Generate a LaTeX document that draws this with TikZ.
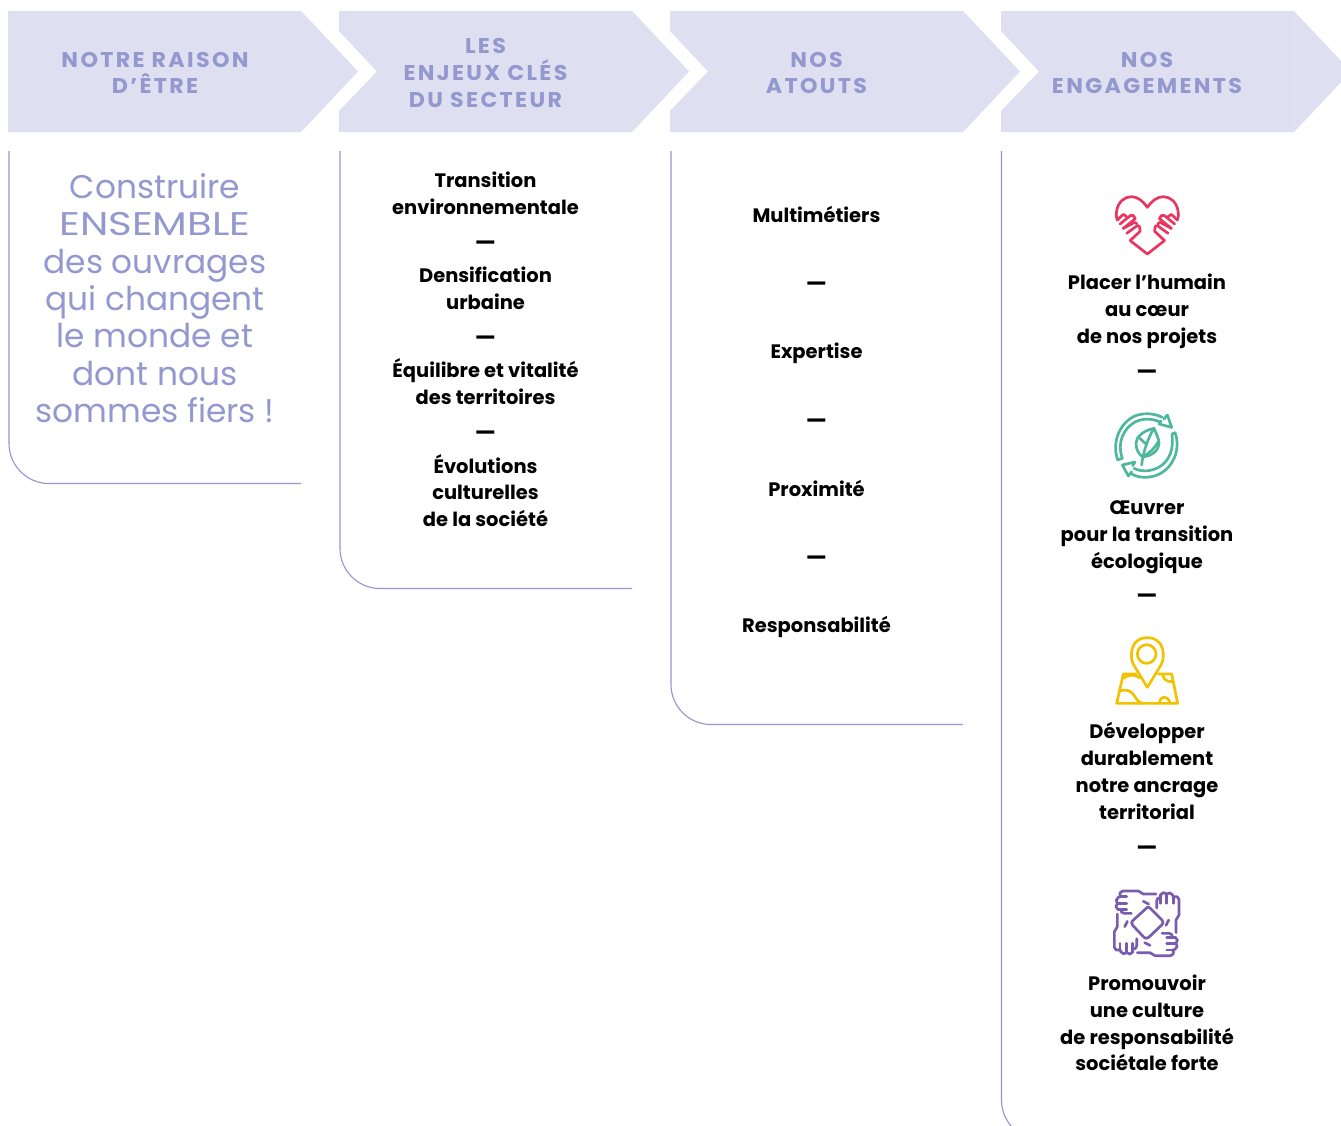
\documentclass[tikz,border=0pt]{standalone}
\usepackage{fontspec}
\setmainfont{Poppins}
\newfontfamily\titlefont[LetterSpace=11,FakeStretch=1.04]{Poppins Bold}
\newfontfamily\semifont{Poppins Bold}
\newfontfamily\boldfont{Poppins Bold}
\newfontfamily\leadfont{Poppins}
\newfontfamily\ensfont[FakeStretch=1.23]{Poppins}
\definecolor{boxfill}{HTML}{DEDFF0}
\definecolor{lilac}{HTML}{9398CF}
\definecolor{heartc}{HTML}{E8365F}
\definecolor{leafc}{HTML}{4DB89D}
\definecolor{pinc}{HTML}{F2C200}
\definecolor{handc}{HTML}{7A5CAE}
\tikzset{
  x=.75pt,y=-.75pt,
  banner/.style={fill=boxfill,draw=none},
  seam/.style={draw=white,opacity=.15,line width=.3pt},
  panel/.style={draw=lilac,line width=.85pt},
  headtext/.style={align=center,text=lilac,font=\titlefont\fontsize{16}{20}\selectfont,inner sep=0pt},
  leadtext/.style={align=center,text=lilac,font=\leadfont\fontsize{24.6}{28}\selectfont,inner sep=0pt},
  bodytext/.style={align=center,text=black,font=\semifont\fontsize{14.6}{20.1}\selectfont,inner sep=0pt},
  sep/.style={text=black,font=\boldfont\fontsize{17}{20}\selectfont,inner sep=0pt},
  icon/.style={line width=2pt,line join=round,line cap=round,fill=none},
}
\begin{document}
\begin{tikzpicture}
\useasboundingbox (0,0) rectangle (1341,1125);
\clip (0,0) rectangle (1341,1125);
\fill[white] (0,0) rectangle (1341,1125);
% banners
\path[banner] (8,11) -- (301,11) -- (358,71.5) -- (301,132) -- (8,132) -- cycle;
\path[banner] (339,11) -- (632,11) -- (689,71.5) -- (632,132) -- (339,132) -- (339,111) -- (377,71.5) -- (339,31) -- cycle;
\path[banner] (670,11) -- (963,11) -- (1020,71.5) -- (963,132) -- (670,132) -- (670,111) -- (708,71.5) -- (670,31) -- cycle;
\path[banner] (1001,11) -- (1294,11) -- (1351,71.5) -- (1294,132) -- (1001,132) -- (1001,111) -- (1039,71.5) -- (1001,31) -- cycle;
\foreach \sx in {301,632,963,1294} \draw[seam] (\sx,11) -- (\sx,132);
% panels
\draw[panel] (9,151) -- (9,443.5) arc[start angle=180,end angle=270,x radius=40,y radius=-40] -- (301,483.5);
\draw[panel] (340,151) -- (340,548.5) arc[start angle=180,end angle=270,x radius=40,y radius=-40] -- (632,588.5);
\draw[panel] (671,151) -- (671,684.5) arc[start angle=180,end angle=270,x radius=40,y radius=-40] -- (963,724.5);
\draw[panel] (1001.5,151) -- (1001.5,1100) arc[start angle=180,end angle=270,x radius=40,y radius=-40];
% headings
\node[headtext] (h1) at (155,73) {NOTRE RAISON\\D’ÊTRE};
\node[headtext] (h2) at (485.5,73) {LES\\ENJEUX CLÉS\\DU SECTEUR};
\node[headtext] (h3) at (816.5,73) {NOS\\ATOUTS};
\node[headtext] (h4) at (1147,73) {NOS\\ENGAGEMENTS};
% lead text
\node[leadtext] (lead) at (155,298) {Construire\\{\ensfont ENSEMBLE}\\des ouvrages\\qui changent\\le monde et\\dont nous\\sommes fiers !};
% column 2
\node[bodytext] (c2a) at (485.5,193) {Transition\\environnementale};
\node[sep] (c2s1) at (485.5,246) {—};
\node[bodytext] (c2b) at (485.5,288.5) {Densification\\urbaine};
\node[sep] (c2s2) at (485.5,341) {—};
\node[bodytext] (c2c) at (485.5,381.5) {Équilibre et vitalité\\des territoires};
\node[sep] (c2s3) at (485.5,435.5) {—};
\node[bodytext] (c2d) at (485.5,490.5) {Évolutions\\culturelles\\de la société};
% column 3
\node[bodytext] (c3a) at (816.5,214) {Multimétiers};
\node[sep] (c3s1) at (816.5,286.5) {—};
\node[bodytext] (c3b) at (816.5,353) {Expertise};
\node[sep] (c3s2) at (816.5,423.5) {—};
\node[bodytext] (c3c) at (816.5,488) {Proximité};
\node[sep] (c3s3) at (816.5,560.5) {—};
\node[bodytext] (c3d) at (816.5,627) {Responsabilité};
% column 4
\node[bodytext] (c4a) at (1147,311) {Placer l’humain\\au cœur\\de nos projets};
\node[sep] (c4s1) at (1147,375) {—};
\node[bodytext] (c4b) at (1147,537) {Œuvrer\\pour la transition\\écologique};
\node[sep] (c4s2) at (1147,599) {—};
\node[bodytext] (c4c) at (1147,771) {Développer\\durablement\\notre ancrage\\territorial};
\node[sep] (c4s3) at (1147,851) {—};
\node[bodytext] (c4d) at (1147,1023) {Promouvoir\\une culture\\de responsabilité\\sociétale forte};
% heart icon
\begin{scope}[shift={(1090,180)},x=.25pt,y=-.25pt,icon,draw=heartc]
  \draw (82,120) .. controls (78,108) and (78,100) .. (80,92) .. controls (84,68) and (102,50) .. (124,50) .. controls (143,50) and (160,64) .. (172,82) .. controls (184,64) and (201,50) .. (220,50) .. controls (242,50) and (260,68) .. (264,92) .. controls (266,100) and (266,108) .. (262,120);
  \draw (122,183) -- (172,222) -- (222,183);
  \foreach \m/\o in {1/0,-1/344}{
    \begin{scope}[shift={(\o,0)},xscale=\m]
      \draw (82,120) -- (100,103) -- (110,110);
      \draw (90,132) -- (122,106) .. controls (128,103) and (134,108) .. (136,116) -- (100,145);
      \draw (100,145) -- (132,128) .. controls (136,126) and (140,128) .. (140,132);
      \draw (110,160) -- (143,136) .. controls (148,136) and (150,142) .. (150,150) -- (150,154) -- (120,182);
    \end{scope}
  }
\end{scope}
% recycling leaf icon
\begin{scope}[shift={(1090,400)},x=.25pt,y=-.25pt,icon,draw=leafc]
  \draw (97,175) .. controls (80,130) and (100,85) .. (135,66) .. controls (160,54) and (185,55) .. (210,66);
  \draw (83,180) .. controls (66,130) and (85,75) .. (130,50) .. controls (155,38) and (190,38) .. (217,52);
  \draw (84,179) -- (97,175);
  \draw (232,45) -- (245,82) -- (207,72) -- (213,63);
  \draw (232,45) -- (222,57);
  \draw (97,195) -- (135,186) -- (128,197);
  \draw (97,195) -- (115,228) -- (125,215);
  \draw (255,98) .. controls (272,140) and (255,195) .. (212,220) .. controls (185,235) and (150,236) .. (125,222);
  \draw (132,205) .. controls (160,220) and (200,212) .. (222,190) .. controls (245,168) and (250,135) .. (246,105);
  \draw (255,98) -- (246,102);
  \draw (192,85) .. controls (160,92) and (138,110) .. (138,130) .. controls (138,150) and (148,165) .. (158,170) .. controls (180,170) and (205,155) .. (207,130) .. controls (207,115) and (198,100) .. (192,85) -- cycle;
  \draw (155,195) .. controls (158,165) and (170,120) .. (192,85);
  \draw (146,112) -- (168,132);
  \draw (162,168) .. controls (175,160) and (190,150) .. (205,125);
\end{scope}
% map pin icon
\begin{scope}[shift={(1090,625)},x=.25pt,y=-.25pt,icon,draw=pinc]
  \draw (172,187) -- (130,118) .. controls (118,95) and (120,38) .. (172,38) .. controls (224,38) and (226,95) .. (214,118) -- cycle;
  \draw (170,87) circle[radius=28];
  \draw (138,147) -- (100,147) -- (80,235) -- (263,235) -- (245,147) -- (205,147);
  \draw (100,160) .. controls (120,145) and (135,150) .. (148,158);
  \draw (218,150) .. controls (222,165) and (232,170) .. (246,170);
  \draw (88,198) .. controls (115,190) and (125,200) .. (135,215) .. controls (143,230) and (150,232) .. (158,235);
  \draw (208,235) .. controls (210,210) and (235,210) .. (240,235);
\end{scope}
% hands icon
\begin{scope}[shift={(1090,880)},x=.25pt,y=-.25pt,icon,draw=handc]
  \draw (172,82) .. controls (176,80) and (178,82) .. (180,84) -- (216,120) .. controls (220,125) and (220,130) .. (216,134) -- (176,172) .. controls (170,176) and (166,176) .. (162,172) -- (128,136) .. controls (124,131) and (124,126) .. (128,122) -- cycle;
  \foreach \r in {0,90,180,270}{
    \begin{scope}[rotate around={\r:(170,130)}]
      \draw (198,42) -- (160,42) -- (145,33) -- (98,33) .. controls (90,33) and (87,42) .. (92,50) -- (85,52) .. controls (77,56) and (77,65) .. (82,70) .. controls (76,75) and (76,85) .. (84,88) -- (94,88) .. controls (92,95) and (94,98) .. (102,100) -- (124,100);
      \draw (92,50) -- (110,50);
      \draw (82,70) -- (110,70);
      \draw (84,88) -- (110,88);
      \draw (176,72) -- (160,64);
    \end{scope}
  }
\end{scope}
\end{tikzpicture}
\end{document}
